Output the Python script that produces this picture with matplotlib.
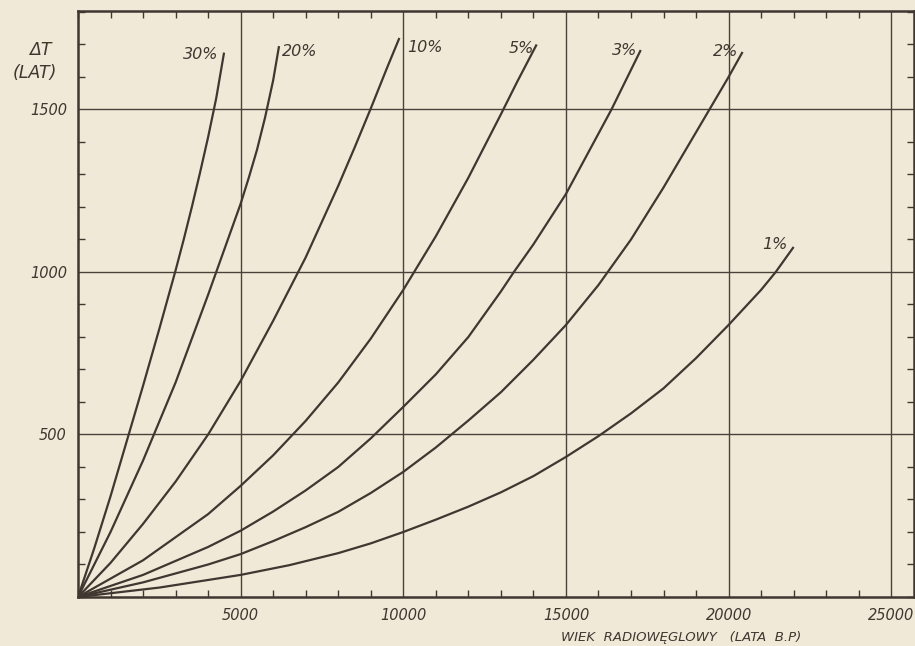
import numpy as np
import matplotlib
matplotlib.use("Agg")
import matplotlib.pyplot as plt
from matplotlib.ticker import MultipleLocator

# odczyt z wykresu: wiek radioweglowy (lata B.P.) i blad dT (lata)
etykiety = ["30%", "20%", "10%", "5%", "3%", "2%", "1%"]

wiek_30 = [0, 500, 1000, 1500, 2000, 2500, 3000, 3250, 3500, 3750, 4000, 4250, 4490]
dt_30 = [0, 150, 310, 480, 650, 825, 1005, 1100, 1200, 1305, 1415, 1535, 1675]

wiek_20 = [0, 1000, 2000, 3000, 4000, 4500, 5000, 5250, 5500, 5750, 6000, 6180]
dt_20 = [0, 200, 420, 660, 930, 1070, 1210, 1290, 1375, 1475, 1590, 1695]

wiek_10 = [0, 1000, 2000, 3000, 4000, 5000, 6000, 7000, 8000, 8500, 9000, 9500, 9880]
dt_10 = [0, 105, 225, 355, 500, 665, 850, 1045, 1265, 1382, 1503, 1628, 1720]

wiek_5 = [0, 2000, 4000, 5000, 6000, 7000, 8000, 9000, 10000, 11000, 12000, 13000, 13500, 14100]
dt_5 = [0, 113, 255, 342, 436, 542, 660, 795, 945, 1110, 1290, 1485, 1585, 1700]

wiek_3 = [0, 2000, 4000, 5000, 6000, 7000, 8000, 9000, 10000, 11000, 12000, 13000, 13400,
          14000, 15000, 16400, 17300]
dt_3 = [0, 68, 154, 204, 263, 328, 400, 488, 585, 685, 800, 940, 1000,
        1085, 1240, 1500, 1683]

wiek_2 = [0, 2000, 4000, 5000, 6000, 7000, 8000, 9000, 10000, 11000, 12000, 13000, 14000,
          15000, 16000, 17000, 18000, 19000, 19500, 20000, 20430]
dt_2 = [0, 45, 100, 132, 172, 215, 262, 320, 385, 460, 543, 630, 730,
        837, 960, 1100, 1260, 1430, 1515, 1600, 1677]

wiek_1 = [0, 2500, 5000, 6500, 8000, 9000, 10000, 11000, 12000, 13000, 14000, 15000, 16000,
          17000, 18000, 19000, 20000, 21000, 21450, 22000]
dt_1 = [0, 29, 68, 98, 135, 165, 200, 238, 278, 322, 372, 431, 495,
        565, 642, 735, 837, 945, 1000, 1077]

serie = [(wiek_30, dt_30), (wiek_20, dt_20), (wiek_10, dt_10), (wiek_5, dt_5),
         (wiek_3, dt_3), (wiek_2, dt_2), (wiek_1, dt_1)]

# przesuniecie etykiet (piksele) i wyrownanie
przes = [(-6, -2, "right"), (3, -5, "left"), (8, -10, "left"), (-3, -4, "right"),
         (-3, 0, "right"), (-4, 0, "right"), (-6, 2, "right")]

papier = "#f1e9d8"
tusz = "#3f3730"

fig = plt.figure(figsize=(9.15, 6.46), dpi=100, facecolor=papier)
ax = fig.add_axes([78 / 915, 49 / 646, 836 / 915, 586 / 646])
ax.set_facecolor(papier)

for (x, y), et, (dx, dy, ha) in zip(serie, etykiety, przes):
    ax.plot(x, y, color=tusz, lw=1.6, solid_joinstyle="round", solid_capstyle="butt")
    ax.annotate(et, (x[-1], y[-1]), xytext=(dx, dy), textcoords="offset pixels",
                ha=ha, va="center", fontsize=11.5, style="italic", color=tusz)

ax.set_xlim(0, 25700)
ax.set_ylim(0, 1803)

ax.xaxis.set_major_locator(MultipleLocator(5000))
ax.xaxis.set_minor_locator(MultipleLocator(1000))
ax.yaxis.set_major_locator(MultipleLocator(500))
ax.yaxis.set_minor_locator(MultipleLocator(100))

ax.grid(which="major", color="#4a423a", lw=1.0)
ax.tick_params(which="both", direction="in", top=True, right=True, color=tusz)
ax.tick_params(which="major", length=0, pad=8, labelsize=10.5, labelcolor=tusz)
ax.tick_params(which="minor", length=5, width=1)

ax.set_xticks([5000, 10000, 15000, 20000, 25000])
ax.set_xticklabels(["5000", "10000", "15000", "20000", "25000"], style="italic")
ax.set_yticks([500, 1000, 1500])
ax.set_yticklabels(["500", "1000", "1500"], style="italic")

for s in ax.spines.values():
    s.set_color(tusz)
    s.set_linewidth(1.8)

fig.text(40 / 915, 1 - 50 / 646, "ΔT", ha="center", va="center",
         fontsize=12.5, style="italic", color=tusz)
fig.text(35 / 915, 1 - 73 / 646, "(LAT)", ha="center", va="center",
         fontsize=12.5, style="italic", color=tusz)
fig.text(681 / 915, 1 - 637 / 646, "WIEK  RADIOWĘGLOWY   (LATA  B.P)", ha="center",
         va="center", fontsize=9.5, style="italic", color=tusz)

fig.savefig("out.png", dpi=100, facecolor=papier)
